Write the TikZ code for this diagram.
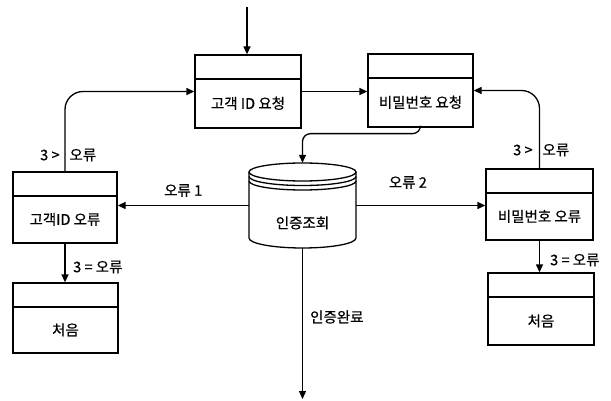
\documentclass[tikz,border=0pt]{standalone}
\usepackage{fontspec}
\setmainfont{Noto Sans CJK KR}[FakeBold=0.6]
\usetikzlibrary{arrows.meta,calc}
\tikzset{
  ln/.style={line width=1.3pt},
  arr/.style={ln,-{Triangle[length=8pt,width=7pt]}},
  box/.style={draw,ln,rectangle,minimum width=106pt,minimum height=72pt,
    text height=38pt,text depth=3.4pt,inner sep=0pt,
    path picture={\draw[ln]([yshift=-24pt]path picture bounding box.north west)--([yshift=-24pt]path picture bounding box.north east);}},
  lbl/.style={inner sep=0pt},
}
\begin{document}
\begin{tikzpicture}[x=1pt,y=-1pt,font=\fontsize{14.5}{16}\selectfont]
\useasboundingbox (0,0) rectangle (611,401);
% boxes
\node[box,minimum width=106pt,minimum height=73pt] (b1) at (248,91.5) {고객 ID 요청};
\node[box,minimum width=105pt,minimum height=73pt] (b2) at (420.5,90.5) {비밀번호 요청};
\node[box,minimum width=104pt,minimum height=71pt] (b3) at (65,207.5) {고객ID 오류};
\node[box,minimum width=107pt,minimum height=71pt] (b4) at (539.5,204.5) {비밀번호 오류};
\node[box,minimum width=105pt,minimum height=70pt] (b5) at (65.5,318) {처음};
\node[box,minimum width=106pt,minimum height=72pt] (b6) at (541,309) {처음};
% cylinder
\node[rectangle,inner sep=0pt,minimum width=107pt,minimum height=85pt,text height=48pt,text depth=2.4pt] (cyl) at (302.5,205.5) {인증조회};
\draw[ln] (302.5,172) ellipse [x radius=53.5pt, y radius=9pt];
\draw[ln] (249,176.5) arc[start angle=180,end angle=360,x radius=53.5pt,y radius=9pt];
\draw[ln] (249,181) arc[start angle=180,end angle=360,x radius=53.5pt,y radius=9pt];
\draw[ln] (249,172) -- (249,238) arc[start angle=180,end angle=360,x radius=53.5pt,y radius=10pt] -- (356,172);
% connectors
\coordinate (topin) at (247,7);
\coordinate (botout) at (302.5,399);
\draw[arr] (topin) -- (topin |- b1.north);
\draw[arr] (b1.east) -- (b1.east -| b2.west);
\draw[arr,rounded corners=8pt] (b2.south) -- ++(0,6) -| (cyl.north);
\draw[arr] (cyl.west) -- (cyl.west -| b3.east) node[lbl,midway,above=8pt] {오류 1};
\draw[arr] (cyl.east) -- (cyl.east -| b4.west) node[lbl,pos=0.4,above=16pt] {오류 2};
\draw[arr] (cyl.south) -- (botout);
\draw[arr,rounded corners=18pt] (b3.north) |- (b1.west);
\draw[arr,rounded corners=18pt] (b4.north) |- (b2.east);
\draw[arr] (b3.south) -- (b3.south |- b5.north);
\draw[arr] (b4.south) -- (b4.south |- b6.north);
% labels
\node[lbl,anchor=west] (l1) at (40,155) {3 >\hspace{10pt}오류};
\node[lbl,anchor=west] (l2) at (513,150) {3 >\hspace{10pt}오류};
\node[lbl,anchor=west] (l3) at (73,267) {3 = 오류};
\node[lbl,anchor=west] (l4) at (550,260) {3 = 오류};
\node[lbl,anchor=west] (l5) at (310,317) {인증완료};
\end{tikzpicture}
\end{document}
